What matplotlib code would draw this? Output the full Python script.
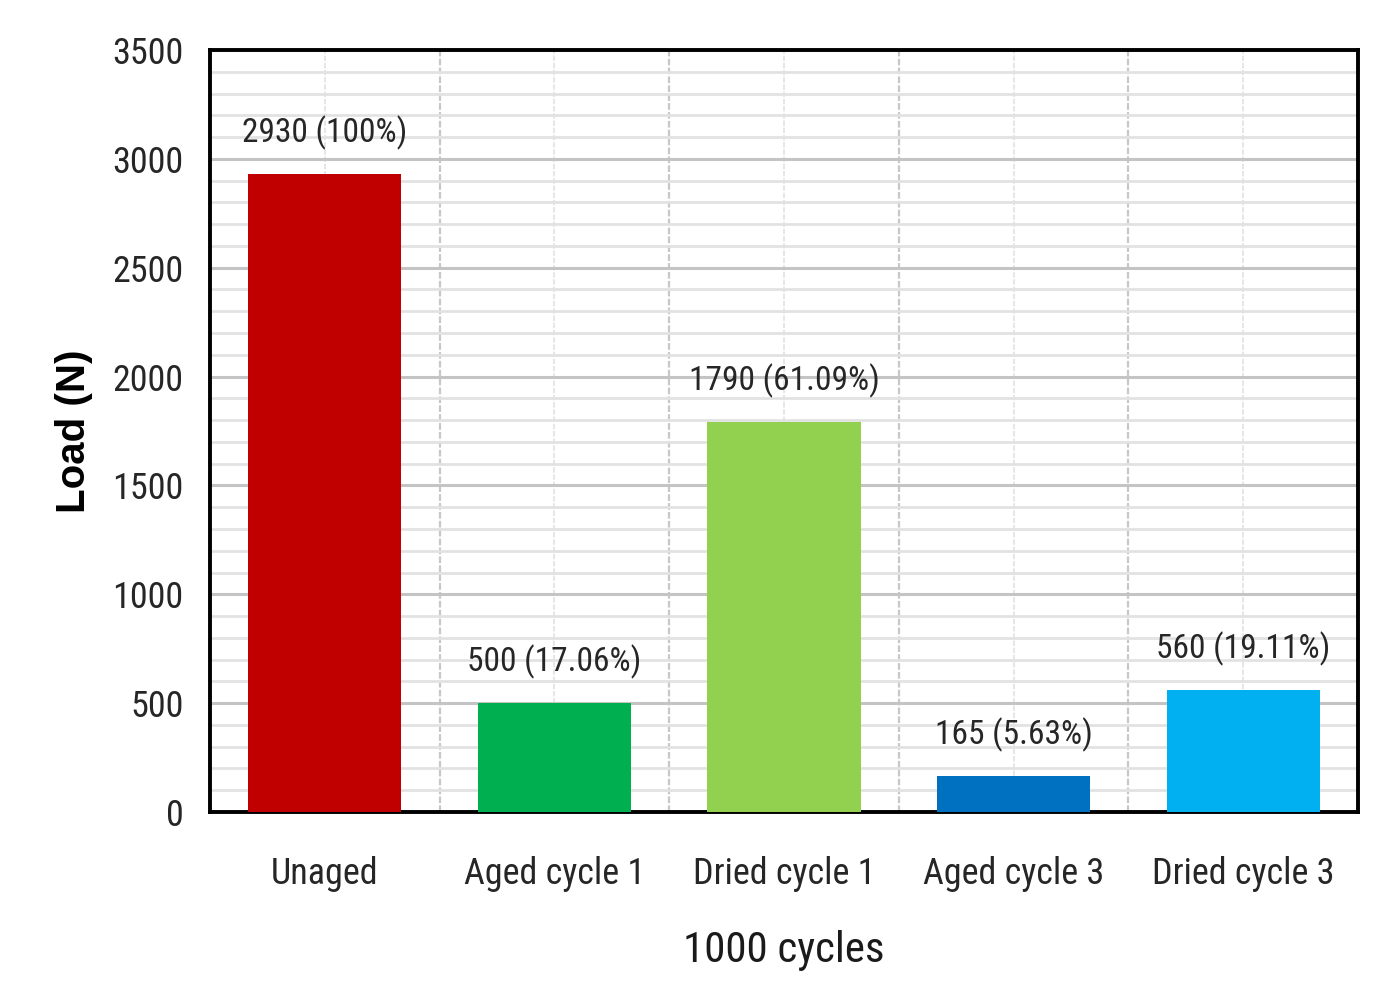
import matplotlib
matplotlib.use("Agg")
import matplotlib.pyplot as plt
from matplotlib.ticker import MultipleLocator
from matplotlib import font_manager as fm

categories = ["Unaged", "Aged cycle 1", "Dried cycle 1", "Aged cycle 3", "Dried cycle 3"]
loads = [2930, 500, 1790, 165, 560]
labels = ["2930 (100%)", "500 (17.06%)", "1790 (61.09%)", "165 (5.63%)", "560 (19.11%)"]
colors = ["#C00000", "#00B050", "#92D050", "#0070C0", "#00B0F0"]

available = {f.name for f in fm.fontManager.ttflist}
main_font = 'DejaVu Sans'
for cand in ['Roboto Condensed', 'IBM Plex Sans Condensed', 'PT Sans Narrow', 'Open Sans Condensed', 'Carlito']:
    if cand in available:
        main_font = cand
        break
bold_font = 'Liberation Sans' if 'Liberation Sans' in available else 'DejaVu Sans'
plt.rcParams['font.family'] = [main_font, 'DejaVu Sans']

fig = plt.figure(figsize=(14, 9.82), dpi=100)
ax = fig.add_axes([210/1400, 1 - 812/982, 1148/1400, 762/982])

x = list(range(len(categories)))
ax.bar(x, loads, width=0.667, color=colors, zorder=3)
for xi, v, lab in zip(x, loads, labels):
    ax.text(xi, v + 110, lab, ha='center', va='bottom', fontsize=24, color='#262626', zorder=4)

ax.set_xlim(-0.5, len(categories) - 0.5)
ax.set_ylim(0, 3500)
ax.yaxis.set_major_locator(MultipleLocator(500))
ax.yaxis.set_minor_locator(MultipleLocator(100))
ax.set_xticks(x)
ax.set_xticks([i + 0.5 for i in range(-1, len(categories))], minor=True)
ax.set_xticklabels(categories, fontsize=26)
ax.tick_params(axis='y', labelsize=26, length=0, pad=19, labelcolor='#262626')
ax.tick_params(axis='x', length=0, pad=32, labelcolor='#262626')
ax.tick_params(which='minor', length=0)

ax.grid(which='major', axis='y', color='#c4c4c4', linewidth=2.2, zorder=0)
ax.grid(which='minor', axis='y', color='#e2e2e2', linewidth=2.0, zorder=0)
ax.grid(which='minor', axis='x', color='#c8c8c8', linewidth=1.6, linestyle=(0, (3, 1)), zorder=0)
ax.grid(which='major', axis='x', color='#e4e4e4', linewidth=1.3, linestyle=(0, (3, 1)), zorder=0)

for s in ax.spines.values():
    s.set_linewidth(2.8)
    s.set_color('black')

ax.set_ylabel("Load (N)", fontsize=29, fontweight='bold', family=[bold_font, 'DejaVu Sans'], labelpad=14)
ax.set_xlabel("1000 cycles", fontsize=31, labelpad=27, color='#1a1a1a')

fig.savefig("out.png", dpi=100)
